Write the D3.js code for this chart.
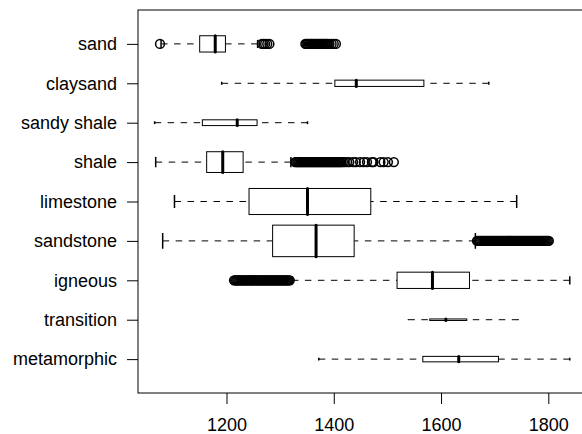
<!DOCTYPE html>
<html>
<head>
<meta charset="utf-8">
<script src="https://cdn.jsdelivr.net/npm/d3@7"></script>
<style>
  body { margin: 0; background: #fff; }
  text { font-family: "Liberation Sans", Arial, sans-serif; }
</style>
</head>
<body>
<div id="chart-area"></div>
<script>
// categories, top to bottom
const categories = ["sand", "claysand", "sandy shale", "shale", "limestone",
  "sandstone", "igneous", "transition", "metamorphic"];

// group sizes (box height follows sqrt(n), varwidth style)
const counts = [3200, 480, 400, 5200, 8200, 12000, 3200, 28, 360];

const whiskerLow = [1078, 1191, 1066, 1068, 1103, 1081, 1322, 1539, 1372];
const q1 = [1150, 1402, 1155, 1163, 1242, 1286, 1518, 1579, 1566];
const medians = [1179, 1442, 1220, 1193, 1351, 1367, 1584, 1609, 1633];
const q3 = [1198, 1568, 1257, 1231, 1469, 1438, 1653, 1648, 1707];
const whiskerHigh = [1258, 1689, 1351, 1320, 1741, 1664, 1840, 1744, 1840];

const sandOutliers = [1076, 1266, 1269, 1272, 1276, 1280,
  1347, 1349, 1351, 1353, 1355, 1357, 1359, 1361, 1363, 1365, 1367, 1369,
  1371, 1373, 1375, 1377, 1379, 1381, 1383, 1385, 1387, 1389, 1392, 1396,
  1400, 1404];
const shaleOutliers = [1328, 1330, 1332, 1334, 1336, 1338, 1340, 1342, 1344,
  1346, 1348, 1350, 1352, 1354, 1356, 1358, 1360, 1362, 1364, 1366, 1368,
  1370, 1372, 1374, 1376, 1378, 1380, 1382, 1384, 1386, 1388, 1390, 1392,
  1394, 1396, 1398, 1400, 1402, 1404, 1406, 1408, 1410, 1412, 1414, 1417,
  1420, 1425, 1429, 1436, 1441, 1449, 1456, 1462, 1471, 1474, 1487, 1493,
  1501, 1512];
const sandstoneOutliers = [1667, 1669, 1671, 1673, 1675, 1677, 1679, 1681,
  1683, 1685, 1687, 1689, 1691, 1693, 1695, 1697, 1699, 1701, 1703, 1705,
  1707, 1709, 1711, 1713, 1715, 1717, 1719, 1721, 1723, 1725, 1727, 1729,
  1731, 1733, 1735, 1737, 1739, 1741, 1743, 1745, 1747, 1749, 1751, 1753,
  1755, 1757, 1759, 1761, 1763, 1765, 1767, 1769, 1771, 1773, 1775, 1777,
  1779, 1781, 1783, 1785, 1787, 1789, 1791, 1793, 1795, 1797, 1799, 1801];
const igneousOutliers = [1214, 1216, 1218, 1220, 1222, 1224, 1226, 1228,
  1230, 1232, 1234, 1236, 1238, 1240, 1242, 1244, 1246, 1248, 1250, 1252,
  1254, 1256, 1258, 1260, 1262, 1264, 1266, 1268, 1270, 1272, 1274, 1276,
  1278, 1280, 1282, 1284, 1286, 1288, 1290, 1292, 1294, 1296, 1298, 1300,
  1302, 1304, 1306, 1308, 1310, 1312, 1314, 1316, 1318];

const outliers = [sandOutliers, [], [], shaleOutliers, [], sandstoneOutliers,
  igneousOutliers, [], []];

const xTicks = [1200, 1400, 1600, 1800];

const margin = { left: 138, top: 10 };
const width = 448.4, height = 383;

const svg = d3.select("#chart-area")
  .append("svg")
  .attr("width", 582)
  .attr("height", 434);

const g = svg.append("g")
  .attr("transform", "translate(" + margin.left + ", " + margin.top + ")");

const x = d3.scaleLinear()
  .domain([1035, 1871])
  .range([0, width]);

const y = d3.scaleLinear()
  .domain([-0.86, categories.length - 1 + 0.86])
  .range([0, height]);

const maxN = d3.max(counts);
const halfW = (i) => y(0.4 * Math.sqrt(counts[i] / maxN)) - y(0);

const data = categories.map((name, i) => ({
  name, i,
  lo: whiskerLow[i], q1: q1[i], med: medians[i], q3: q3[i], hi: whiskerHigh[i],
  out: outliers[i]
}));

// axes
const xAxisCall = d3.axisBottom(x)
  .tickValues(xTicks)
  .tickSize(11)
  .tickPadding(14)
  .tickFormat(d3.format("d"));
const xg = g.append("g")
  .attr("transform", "translate(0, " + height + ")")
  .call(xAxisCall);

const yAxisCall = d3.axisLeft(y)
  .tickValues(d3.range(categories.length))
  .tickSize(11)
  .tickPadding(10)
  .tickFormat((i) => categories[i]);
const yg = g.append("g").call(yAxisCall);

[xg, yg].forEach((ax) => {
  ax.select(".domain").remove();
  ax.selectAll("line").attr("stroke", "#000");
  ax.selectAll("text")
    .attr("fill", "#000")
    .attr("font-size", "18px");
});

const boxes = g.selectAll(".box")
  .data(data)
  .enter()
  .append("g")
  .attr("class", "box");

// whiskers (dashed, drawn from whisker end to box)
boxes.append("line")
  .attr("x1", (d) => x(d.lo)).attr("x2", (d) => x(d.q1))
  .attr("y1", (d) => y(d.i)).attr("y2", (d) => y(d.i))
  .attr("stroke", "#000").attr("stroke-dasharray", "6.5,6.5");
boxes.append("line")
  .attr("x1", (d) => x(d.hi)).attr("x2", (d) => x(d.q3))
  .attr("y1", (d) => y(d.i)).attr("y2", (d) => y(d.i))
  .attr("stroke", "#000").attr("stroke-dasharray", "6.5,6.5");

// staples
["lo", "hi"].forEach((k) => {
  boxes.append("line")
    .attr("x1", (d) => x(d[k])).attr("x2", (d) => x(d[k]))
    .attr("y1", (d) => y(d.i) - halfW(d.i) / 2)
    .attr("y2", (d) => y(d.i) + halfW(d.i) / 2)
    .attr("stroke", "#000").attr("stroke-width", 1.5);
});

// boxes
boxes.append("rect")
  .attr("x", (d) => x(d.q1))
  .attr("width", (d) => x(d.q3) - x(d.q1))
  .attr("y", (d) => y(d.i) - halfW(d.i))
  .attr("height", (d) => 2 * halfW(d.i))
  .attr("fill", "#fff")
  .attr("stroke", "#000");

// medians
boxes.append("line")
  .attr("x1", (d) => x(d.med)).attr("x2", (d) => x(d.med))
  .attr("y1", (d) => y(d.i) - halfW(d.i))
  .attr("y2", (d) => y(d.i) + halfW(d.i))
  .attr("stroke", "#000").attr("stroke-width", 3)
  .attr("stroke-linecap", "round");

// outliers
boxes.selectAll("circle")
  .data((d) => d.out.map((v) => ({ v, i: d.i })))
  .enter()
  .append("circle")
  .attr("cx", (d) => x(d.v))
  .attr("cy", (d) => y(d.i))
  .attr("r", 4.4)
  .attr("fill", "none")
  .attr("stroke", "#000")
  .attr("stroke-width", 1.5);

// frame
g.append("rect")
  .attr("x", 0).attr("y", 0)
  .attr("width", width).attr("height", height)
  .attr("fill", "none")
  .attr("stroke", "#000");
</script>
</body>
</html>
